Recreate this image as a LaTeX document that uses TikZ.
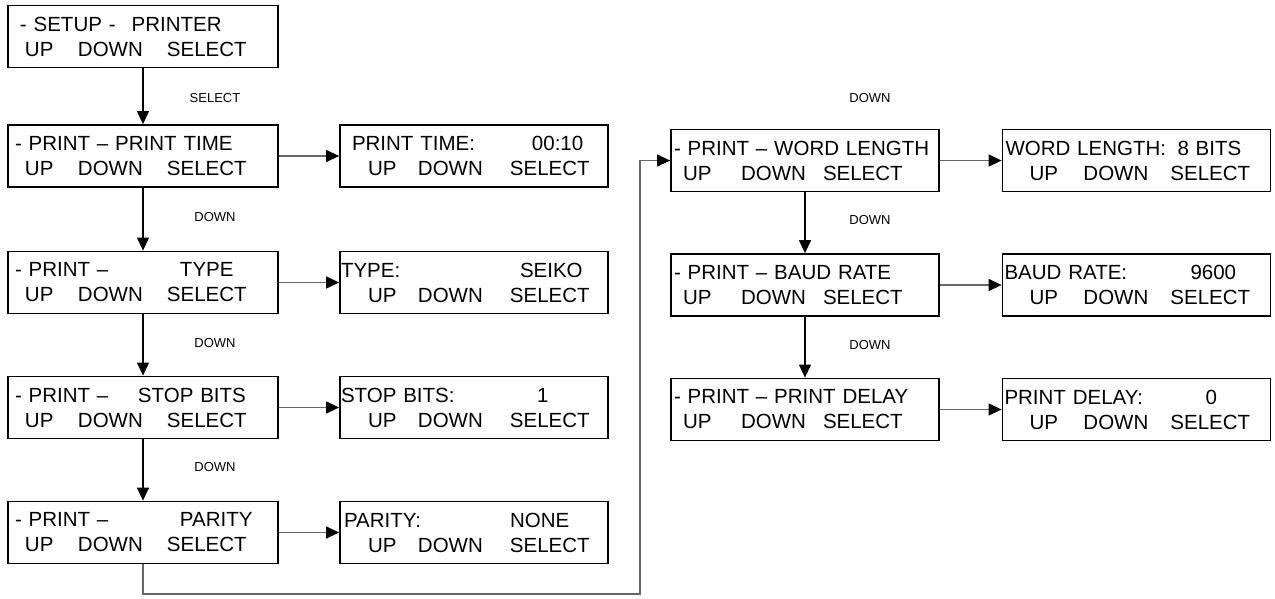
\documentclass[tikz,border=0pt]{standalone}
\usepackage{fontspec}
\setmainfont{Liberation Sans}
\usetikzlibrary{arrows.meta}

\newcommand{\menufont}{\fontsize{20.5}{25}\selectfont}
\newcommand{\keyfont}{\fontsize{13}{15}\selectfont}
% second line of every display: UP / DOWN / SELECT at given columns
\newcommand{\keyrow}[3]{\hspace*{#1}\makebox[#2][l]{UP}\makebox[#3][l]{DOWN}SELECT}

\begin{document}
\begin{tikzpicture}[x=1pt, y=-1pt, line join=miter,
    menubox/.style={draw, line width=1.8pt, text width=270pt, minimum height=62pt,
                    inner xsep=0pt, inner ysep=0pt, align=left, font=\menufont},
    valbox/.style={menubox, text width=268pt},
    conn/.style={line width=1.2pt, -{Triangle[length=13pt, width=12pt]}},
    sideconn/.style={line width=1.3pt, draw=black!60, -{Triangle[length=13pt, width=12pt, color=black]}},
    keylbl/.style={font=\keyfont, inner sep=0pt}]
    \useasboundingbox (0,0) rectangle (1275,598);

    % Left column: menu entries
    \node[menubox] (setup)   at (143,36.5)
        {\hspace*{12pt}- SETUP -\hspace{16pt}PRINTER\\ \keyrow{17pt}{53pt}{89pt}};
    \node[menubox] (ptime)   at (143,156)
        {\hspace*{7pt}- PRINT -- PRINT TIME\\ \keyrow{17pt}{53pt}{89pt}};
    \node[menubox] (ptype)   at (143,282.5)
        {\hspace*{7pt}\makebox[165pt][l]{- PRINT --}TYPE\\ \keyrow{17pt}{53pt}{89pt}};
    \node[menubox] (pstop)   at (143,407.5)
        {\hspace*{7pt}\makebox[123pt][l]{- PRINT --}STOP BITS\\ \keyrow{17pt}{53pt}{89pt}};
    \node[menubox] (pparity) at (143,532.5)
        {\hspace*{7pt}\makebox[165pt][l]{- PRINT --}PARITY\\ \keyrow{17pt}{53pt}{89pt}};

    % Values shown next to them
    \node[valbox] (vtime)   at (474,156)
        {\hspace*{12pt}\makebox[180pt][l]{PRINT TIME:}00:10\\ \keyrow{28pt}{50pt}{92pt}};
    \node[valbox] (vtype)   at (474,282.5)
        {\hspace*{1pt}\makebox[179pt][l]{TYPE:}SEIKO\\ \keyrow{28pt}{50pt}{92pt}};
    \node[valbox] (vstop)   at (474,407.5)
        {\hspace*{1pt}\makebox[196pt][l]{STOP BITS:}1\\ \keyrow{28pt}{50pt}{92pt}};
    \node[valbox] (vparity) at (474,532.5)
        {\hspace*{4pt}\makebox[166pt][l]{PARITY:}NONE\\ \keyrow{28pt}{50pt}{92pt}};

    % Right column: menu entries
    \node[valbox] (pword)  at (805,160.5)
        {\hspace*{3pt}- PRINT -- WORD LENGTH\\ \keyrow{12pt}{58pt}{82pt}};
    \node[valbox] (pbaud)  at (805,285)
        {\hspace*{3pt}- PRINT -- BAUD RATE\\ \keyrow{12pt}{58pt}{82pt}};
    \node[valbox] (pdelay) at (805,409.5)
        {\hspace*{3pt}- PRINT -- PRINT DELAY\\ \keyrow{12pt}{58pt}{82pt}};

    % and their values
    \node[valbox] (vword)  at (1136.5,160.5)
        {\hspace*{3pt}\makebox[172pt][l]{WORD LENGTH:}8 BITS\\ \keyrow{27pt}{54pt}{87pt}};
    \node[valbox] (vbaud)  at (1136.5,285)
        {\hspace*{2pt}\makebox[186pt][l]{BAUD RATE:}9600\\ \keyrow{27pt}{54pt}{87pt}};
    \node[valbox] (vdelay) at (1136.5,409.5)
        {\hspace*{2pt}\makebox[201pt][l]{PRINT DELAY:}0\\ \keyrow{27pt}{54pt}{87pt}};

    % Key labels on the downward steps
    \node[keylbl] (kselect) at (215,98)  {SELECT};
    \node[keylbl] (kdown1)  at (215,217) {DOWN};
    \node[keylbl] (kdown2)  at (215,343) {DOWN};
    \node[keylbl] (kdown3)  at (215,467) {DOWN};
    \node[keylbl] (kdown4)  at (870,98)  {DOWN};
    \node[keylbl] (kdown5)  at (870,220) {DOWN};
    \node[keylbl] (kdown6)  at (870,345) {DOWN};

    % Downward steps
    \draw[conn] (setup) -- (ptime);
    \draw[conn] (ptime) -- (ptype);
    \draw[conn] (ptype) -- (pstop);
    \draw[conn] (pstop) -- (pparity);
    \draw[conn] (pword) -- (pbaud);
    \draw[conn] (pbaud) -- (pdelay);

    % Entries to their values
    \draw[sideconn] (ptime) -- (vtime);
    \draw[sideconn] (ptype) -- (vtype);
    \draw[sideconn] (pstop) -- (vstop);
    \draw[sideconn] (pparity) -- (vparity);
    \draw[sideconn] (pword) -- (vword);
    \draw[sideconn] (pbaud) -- (vbaud);
    \draw[sideconn] (pdelay) -- (vdelay);

    % Wrap from PARITY round to WORD LENGTH
    \coordinate (wrap) at (640,594);
    \draw[sideconn] (pparity.south) |- (wrap) |- (pword.west);
\end{tikzpicture}
\end{document}
